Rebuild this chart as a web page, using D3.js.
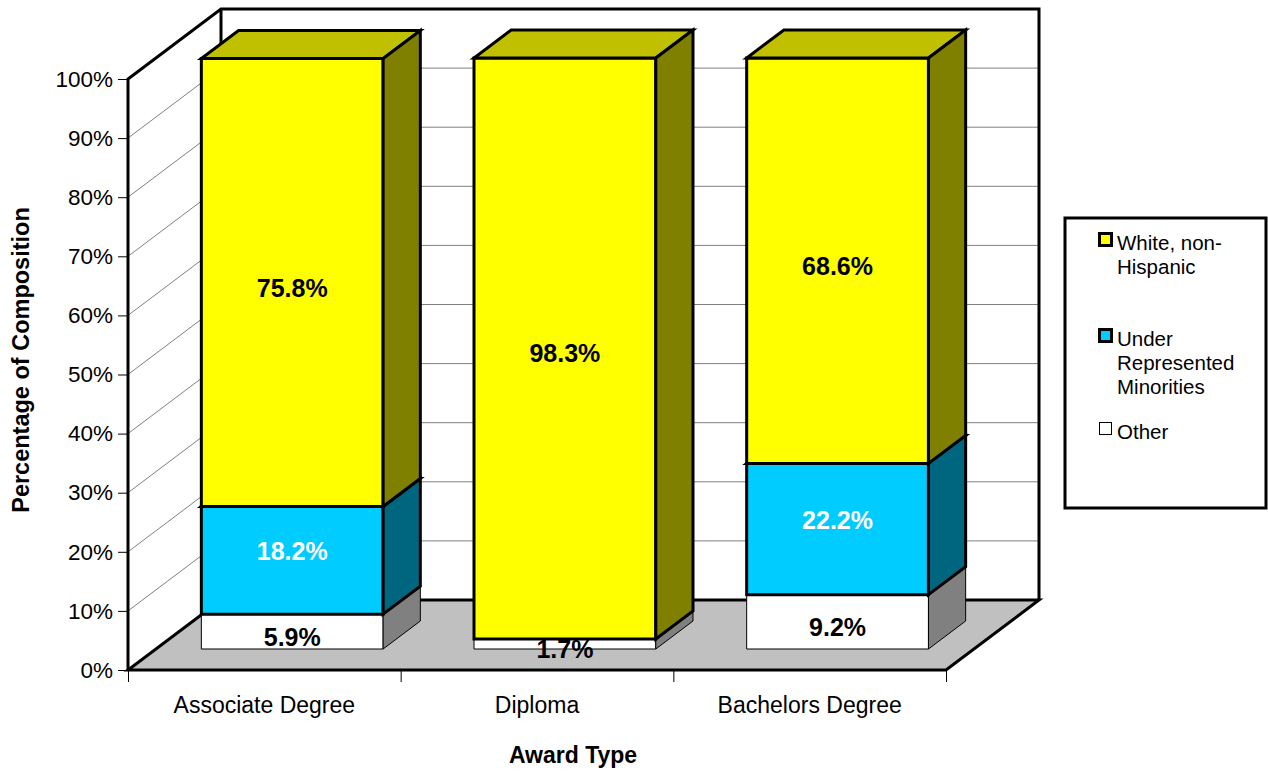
<!DOCTYPE html>
<html>
<head>
<meta charset="utf-8">
<script src="https://cdn.jsdelivr.net/npm/d3@7/dist/d3.min.js"></script>
<style>
  html, body { margin: 0; padding: 0; background: #ffffff; }
  svg { display: block; font-family: "Liberation Sans", Arial, sans-serif; }
</style>
</head>
<body>
<svg id="chart" width="1268" height="771"></svg>
<script>
// Award types along the category axis
const categories = ["Associate Degree", "Diploma", "Bachelors Degree"];

// Composition (%) per award type, one array per group
const otherPct = [5.9, 1.7, 9.2];
const urmPct   = [18.2, 0, 22.2];
const whitePct = [75.8, 98.3, 68.6];

// Series in stacking order (bottom to top)
const seriesKeys   = ["other", "urm", "white"];
const seriesLabels = {
  white: ["White, non-", "Hispanic"],
  urm:   ["Under", "Represented", "Minorities"],
  other: ["Other"]
};

// Value-axis ticks
const yTicks = [0, 10, 20, 30, 40, 50, 60, 70, 80, 90, 100];

const xTitle = "Award Type";
const yTitle = "Percentage of Composition";

// ---- styling ----
const faceColors = {
  white: { front: "#FFFF00", top: "#C0C000", side: "#808000", stroke: 3, label: "#000000" },
  urm:   { front: "#00CCFF", top: "#00A3CC", side: "#006680", stroke: 3, label: "#FFFFFF" },
  other: { front: "#FFFFFF", top: "#C0C0C0", side: "#808080", stroke: 1, label: "#000000" }
};
const labelShift = { white: 5, urm: -9, other: 5 };

const rows = categories.map((c, i) => ({
  category: c, other: otherPct[i], urm: urmPct[i], white: whitePct[i]
}));
const stacked = d3.stack().keys(seriesKeys)(rows);

const svg = d3.select("#chart");

// front-plane scales
const y = d3.scaleLinear().domain([0, 100]).range([670, 79]);
const xCat = d3.scaleBand().domain(categories).range([128, 946]).padding(0);
const xBar = d3.scaleBand().domain(categories).range([128, 946])
  .paddingInner(1 / 3).paddingOuter(1 / 6);

// oblique depth projection: d = 0 front plane, d = 1 back wall
const DX = 93, DY = 70;
const P = (x, v, d) => [x + d * DX, y(v) - d * DY];
const poly = pts => "M" + pts.map(p => p.join(",")).join("L") + "Z";

const x0 = xCat.range()[0], x1 = xCat.range()[1];

// ---- walls ----
const walls = svg.append("g");
walls.append("path")
  .attr("d", poly([P(x0, 0, 1), P(x0, 100, 1), P(x1, 100, 1), P(x1, 0, 1)]))
  .attr("fill", "#ffffff");
walls.append("path")
  .attr("d", poly([P(x0, 0, 0), P(x0, 100, 0), P(x0, 100, 1), P(x0, 0, 1)]))
  .attr("fill", "#ffffff");

// gridlines on the back and left walls
const grid = svg.append("g").attr("stroke", "#808080").attr("stroke-width", 1);
yTicks.filter(v => v > 0 && v < 100).forEach(v => {
  const a = P(x0, v, 0), b = P(x0, v, 1), c = P(x1, v, 1);
  grid.append("path").attr("fill", "none").attr("d", `M${a}L${b}L${c}`);
});

// wall outlines
const edges = svg.append("g").attr("stroke", "#000").attr("stroke-width", 3)
  .attr("fill", "none").attr("stroke-linejoin", "miter");
edges.append("path").attr("d",
  `M${P(x0, 0, 0)}L${P(x0, 100, 0)}L${P(x0, 100, 1)}L${P(x1, 100, 1)}L${P(x1, 0, 1)}`);
edges.append("path").attr("d", `M${P(x0, 0, 1)}L${P(x0, 100, 1)}`);

// floor
svg.append("path")
  .attr("d", poly([P(x0, 0, 0), P(x1, 0, 0), P(x1, 0, 1), P(x0, 0, 1)]))
  .attr("fill", "#C0C0C0").attr("stroke", "#000").attr("stroke-width", 3)
  .attr("stroke-linejoin", "miter");

// ---- axes ----
const yAxis = svg.append("g")
  .attr("transform", `translate(${x0},0)`)
  .call(d3.axisLeft(y).tickValues(yTicks).tickFormat(d => d + "%")
    .tickSize(10).tickPadding(5));
yAxis.select(".domain").remove();
yAxis.selectAll(".tick line").attr("stroke", "#000").attr("stroke-width", 1);
yAxis.selectAll(".tick text").attr("font-size", 22.5).attr("fill", "#000")
  .attr("font-family", "Liberation Sans, Arial, sans-serif");

const xEdge = d3.scaleLinear().domain([0, categories.length]).range([x0, x1]);
const xAxisTicks = svg.append("g")
  .attr("transform", `translate(0,${y(0)})`)
  .call(d3.axisBottom(xEdge).tickValues(d3.range(categories.length + 1))
    .tickFormat("").tickSize(12));
xAxisTicks.select(".domain").remove();
xAxisTicks.selectAll(".tick line").attr("stroke", "#000").attr("stroke-width", 1);

const xAxis = svg.append("g")
  .attr("transform", `translate(0,${y(0)})`)
  .call(d3.axisBottom(xCat).tickSize(0).tickPadding(27));
xAxis.select(".domain").remove();
xAxis.selectAll(".tick text").attr("font-size", 23).attr("fill", "#000")
  .attr("font-family", "Liberation Sans, Arial, sans-serif");

// axis titles
svg.append("text")
  .attr("x", 573).attr("y", 763)
  .attr("text-anchor", "middle").attr("font-size", 23).attr("font-weight", "bold")
  .text(xTitle);
svg.append("text")
  .attr("transform", "translate(29,360) rotate(-90)")
  .attr("text-anchor", "middle").attr("font-size", 23.5).attr("font-weight", "bold")
  .text(yTitle);

// ---- 3D stacked bars ----
const D0 = 0.3, D1 = 0.7;
const bars = svg.append("g");
categories.forEach((cat, i) => {
  const xl = xBar(cat), xr = xl + xBar.bandwidth();
  stacked.forEach(s => {
    const [v0, v1] = s[i];
    if (v1 - v0 <= 0) return;
    const c = faceColors[s.key];
    const g = bars.append("g")
      .attr("stroke", "#000").attr("stroke-width", c.stroke)
      .attr("stroke-linejoin", "miter");
    // front face
    g.append("path").attr("fill", c.front)
      .attr("d", poly([P(xl, v0, D0), P(xr, v0, D0), P(xr, v1, D0), P(xl, v1, D0)]));
    // top face
    g.append("path").attr("fill", c.top)
      .attr("d", poly([P(xl, v1, D0), P(xr, v1, D0), P(xr, v1, D1), P(xl, v1, D1)]));
    // right side face
    g.append("path").attr("fill", c.side)
      .attr("d", poly([P(xr, v0, D0), P(xr, v0, D1), P(xr, v1, D1), P(xr, v1, D0)]));
  });
});

// ---- data labels ----
const labels = svg.append("g")
  .attr("font-size", 25).attr("font-weight", "bold").attr("text-anchor", "middle");
categories.forEach((cat, i) => {
  const xc = xBar(cat) + xBar.bandwidth() / 2;
  stacked.forEach(s => {
    const [v0, v1] = s[i];
    const val = v1 - v0;
    if (val <= 0) return;
    const [px, py] = P(xc, (v0 + v1) / 2, D0);
    labels.append("text")
      .attr("x", px).attr("y", py + labelShift[s.key])
      .attr("dy", "0.36em")
      .attr("fill", faceColors[s.key].label)
      .text(d3.format(".1f")(val) + "%");
  });
});

// ---- legend ----
const legend = svg.append("g");
legend.append("rect")
  .attr("x", 1065).attr("y", 218).attr("width", 201).attr("height", 290)
  .attr("fill", "#fff").attr("stroke", "#000").attr("stroke-width", 3);
const legendOrder = ["white", "urm", "other"];
const legendTop = { white: 250, urm: 346, other: 439 };
legendOrder.forEach(k => {
  const c = faceColors[k];
  const base = legendTop[k];
  legend.append("rect")
    .attr("x", 1099.5).attr("y", base - 16.5).attr("width", 12).attr("height", 12)
    .attr("fill", c.front).attr("stroke", "#000").attr("stroke-width", c.stroke);
  const t = legend.append("text").attr("font-size", 20.5).attr("fill", "#000");
  seriesLabels[k].forEach((line, j) => {
    t.append("tspan").attr("x", 1117).attr("y", base + j * 24).text(line);
  });
});
</script>
</body>
</html>
